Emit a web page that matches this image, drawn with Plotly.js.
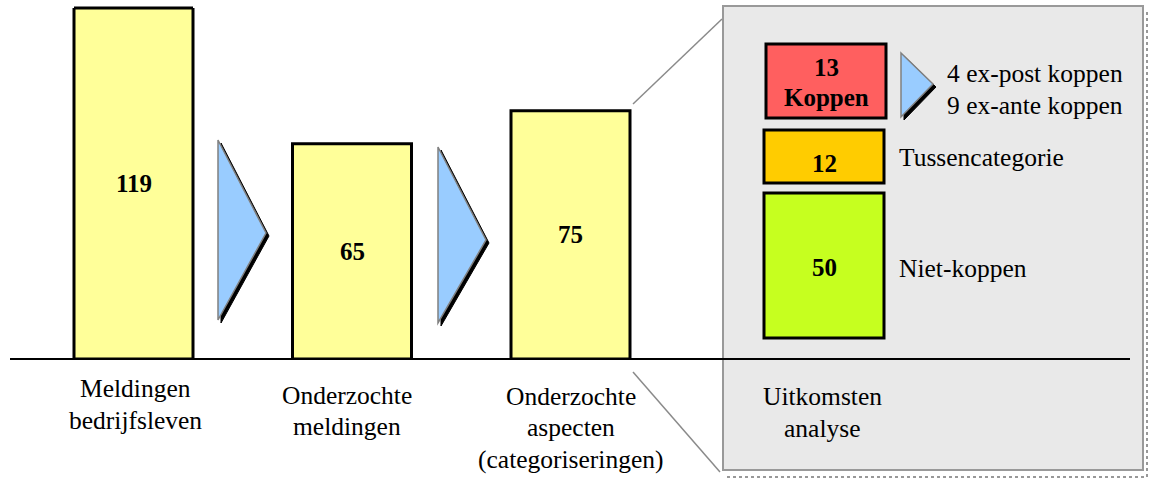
<!DOCTYPE html>
<html><head><meta charset="utf-8">
<script src="https://cdn.plot.ly/plotly-3.0.1.min.js"></script>
<style>html,body{margin:0;padding:0;background:#fff}#chart{width:1151px;height:491px}</style>
</head><body><div id="chart"></div>
<script>
// ---- data ----
const categories = ['Meldingen bedrijfsleven', 'Onderzochte meldingen', 'Onderzochte aspecten (categoriseringen)'];
const categoryLines = [['Meldingen', 'bedrijfsleven'], ['Onderzochte', 'meldingen'], ['Onderzochte', 'aspecten', '(categoriseringen)']];
const counts = [119, 65, 75];
const panelTitleLines = ['Uitkomsten', 'analyse'];
const outcomeCounts = [13, 12, 50];
const outcomeBoxLabels = ['Koppen', '', ''];
const outcomeNames = ['', 'Tussencategorie', 'Niet-koppen'];
const koppenSplitCounts = [4, 9];
const koppenSplitNames = ['ex-post koppen', 'ex-ante koppen'];

// ---- layout helpers ----
const W = 1151, H = 491, TOP = 8, BASE = 359;
const plotH = BASE - TOP;
const pxPerUnit = 3.31;
const yMax = plotH / pxPerUnit;
const slot = 218.5, firstCenter = 133.5;
const xr0 = -firstCenter / slot, xr1 = xr0 + W / slot;
const barW = 119 / slot;
const fx = x => x / W;
const fy = y => (BASE - y) / plotH;
const SERIF = 'Liberation Serif';
const pathP = pts => 'M ' + pts.map(p => fx(p[0]) + ',' + fy(p[1])).join(' L ') + ' Z';
const pathOpen = pts => 'M ' + pts.map(p => fx(p[0]) + ',' + fy(p[1])).join(' L ');

const shapes = [];
const P = {xref: 'paper', yref: 'paper'};
// panel shadow (dotted)
shapes.push(Object.assign({type: 'path', path: pathOpen([[727, 477], [1147, 477], [1147, 10]]),
  line: {color: '#777', width: 1.5, dash: 'dot'}, layer: 'below'}, P));
// panel
shapes.push(Object.assign({type: 'rect', x0: fx(723), x1: fx(1143), y0: fy(470), y1: fy(6),
  fillcolor: '#E9E9E9', line: {color: '#999', width: 2}, layer: 'below'}, P));
// connector lines
shapes.push(Object.assign({type: 'line', x0: fx(633), y0: fy(104), x1: fx(722), y1: fy(19),
  line: {color: '#8a8a8a', width: 1.5}}, P));
shapes.push(Object.assign({type: 'line', x0: fx(633), y0: fy(372), x1: fx(720), y1: fy(472),
  line: {color: '#8a8a8a', width: 1.5}}, P));
// arrows (triangles with shadow)
function tri(x, yt, tipX, tipY, yb, d) {
  shapes.push(Object.assign({type: 'path', path: pathP([[x + d, yt + d], [tipX + d, tipY + d], [x + d, yb + d]]),
    fillcolor: '#000', line: {color: '#000', width: 1}}, P));
  shapes.push(Object.assign({type: 'path', path: pathP([[x, yt], [tipX, tipY], [x, yb]]),
    fillcolor: '#99CCFF', line: {color: '#808080', width: 1.5}}, P));
}
tri(218, 140, 266, 233, 320, 3);
tri(438, 147, 486, 240, 323, 3);
tri(901, 53, 933, 84, 117, 3);
// baseline
shapes.push(Object.assign({type: 'line', x0: fx(10), x1: fx(1130), y0: 0, y1: 0,
  line: {color: '#000', width: 2}}, P));
// first bar's top edge (bar runs beyond visible height)
shapes.push({type: 'line', xref: 'x', yref: 'paper', x0: -barW / 2, x1: barW / 2, y0: 1, y1: 1,
  line: {color: '#000', width: 3}});
// outcome boxes
const boxGeom = [[766, 44, 886, 118, '#FF5F5F'], [764, 130, 884, 183, '#FFCC00'], [764, 193, 884, 338, '#C6FF1F']];
boxGeom.forEach(b => shapes.push(Object.assign({type: 'rect', x0: fx(b[0]), x1: fx(b[2]), y0: fy(b[3]), y1: fy(b[1]),
  fillcolor: b[4], line: {color: '#000', width: 3}}, P)));

const annotations = [];
function txt(x, y, text, opts) {
  annotations.push(Object.assign({xref: 'paper', yref: 'paper', x: fx(x), y: fy(y), text: text, showarrow: false,
    xanchor: 'center', yanchor: 'middle', font: {family: SERIF, size: 25.5, color: '#000'}}, opts || {}));
}
// bar values
counts.forEach((v, i) => annotations.push({xref: 'x', yref: 'y', x: categories[i], y: Math.min(v, yMax) / 2,
  text: '<b>' + v + '</b>', showarrow: false, xanchor: 'center', yanchor: 'middle',
  font: {family: SERIF, size: 25, color: '#000'}}));
// category labels
const firstLineY = [389, 395, 396];
const labelShift = [2, -5, 0];
categoryLines.forEach((lines, i) => lines.forEach((l, j) => annotations.push({xref: 'x', yref: 'paper',
  x: categories[i], y: fy(firstLineY[i] + j * 31.5), xshift: labelShift[i], text: l, showarrow: false,
  xanchor: 'center', yanchor: 'middle',
  font: {family: SERIF, size: 25.5, color: '#000'}})));
panelTitleLines.forEach((l, j) => txt(822, 396 + j * 32, l));
// outcome box texts
const boxTextY = [[67, 98], [163], [267]];
outcomeCounts.forEach((v, i) => {
  const cx = (boxGeom[i][0] + boxGeom[i][2]) / 2;
  txt(cx, boxTextY[i][0], '<b>' + v + '</b>', {font: {family: SERIF, size: 25, color: '#000'}});
  if (outcomeBoxLabels[i]) txt(cx, boxTextY[i][1], '<b>' + outcomeBoxLabels[i] + '</b>', {font: {family: SERIF, size: 25, color: '#000'}});
});
const nameY = [0, 157, 268];
outcomeNames.forEach((n, i) => { if (n) txt(897, nameY[i], n, {xanchor: 'left'}); });
koppenSplitCounts.forEach((c, i) => txt(945, 73 + i * 32, c + ' ' + koppenSplitNames[i], {xanchor: 'left'}));

const trace = {type: 'bar', x: categories, y: counts, width: barW,
  marker: {color: '#FFFF99', line: {color: '#000', width: 3}}, hoverinfo: 'skip', showlegend: false};

const layout = {
  width: W, height: H, margin: {l: 0, r: 0, t: TOP, b: H - BASE},
  font: {family: SERIF},
  paper_bgcolor: '#fff', plot_bgcolor: 'rgba(0,0,0,0)',
  xaxis: {type: 'category', range: [xr0, xr1], visible: false, fixedrange: true},
  yaxis: {range: [0, yMax], visible: false, fixedrange: true},
  shapes: shapes, annotations: annotations, showlegend: false
};
Plotly.newPlot('chart', [trace], layout, {staticPlot: true, displayModeBar: false});
</script>
</body></html>
